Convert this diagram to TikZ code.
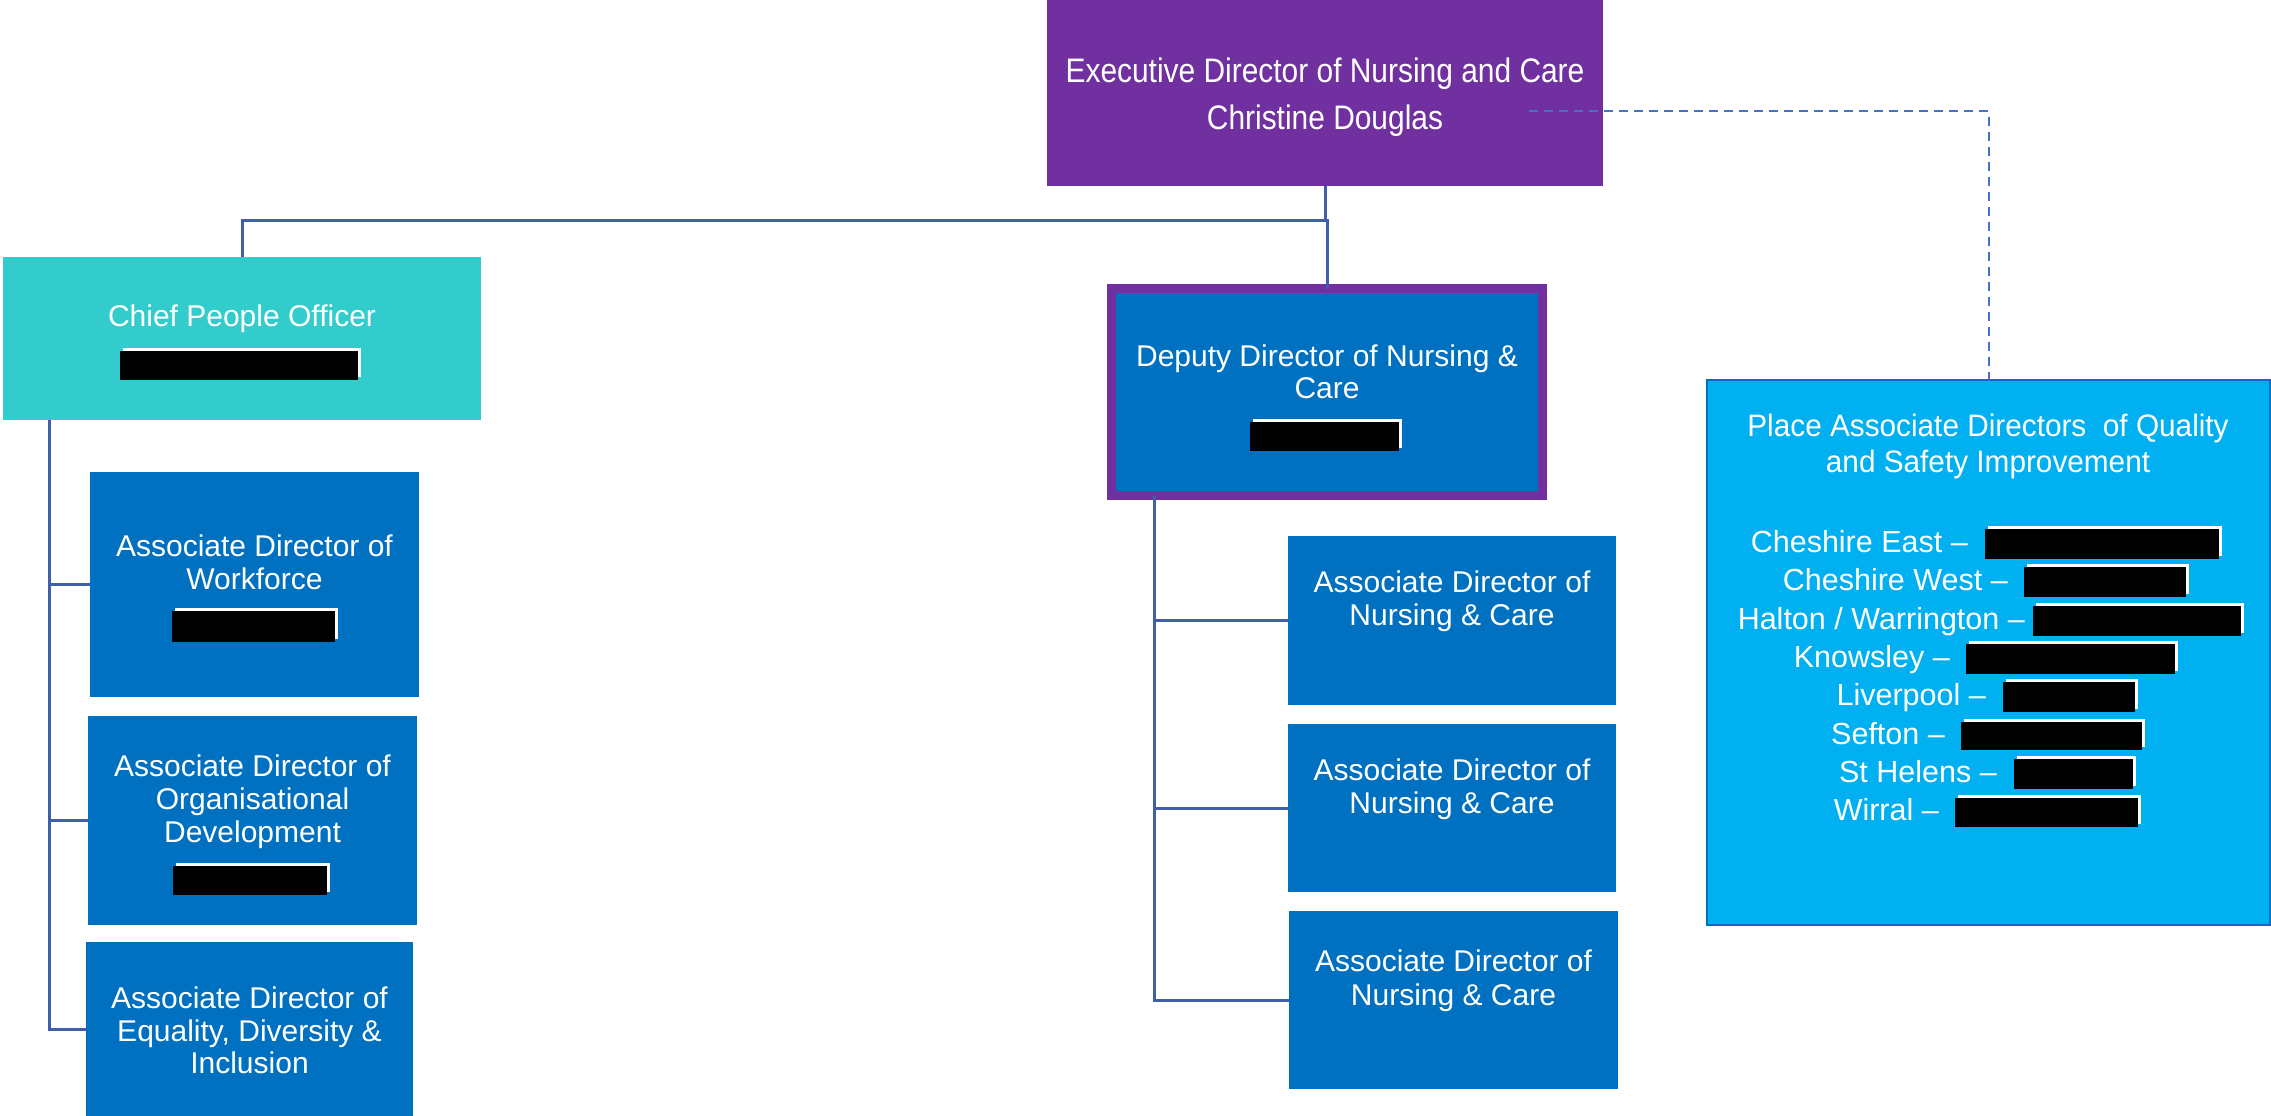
\documentclass[tikz,border=0pt]{standalone}
\usepackage{fontspec}
\setmainfont{Liberation Sans}
\newfontface\condfont[FakeStretch=0.88]{Liberation Sans}
\newfontface\medfont[FakeStretch=0.96]{Liberation Sans}
\definecolor{cpurple}{HTML}{7030A0}
\definecolor{cteal}{HTML}{33CCCC}
\definecolor{cblue}{HTML}{0070C0}
\definecolor{clight}{HTML}{00B0F0}
\definecolor{cline}{HTML}{3F5FAA}
\definecolor{cdash}{HTML}{4472C4}
\newcommand{\redactbar}[4]{%
  \fill[white] (#1+3,#2-3) rectangle (#3+3,#4-3);
  \fill[black] (#1,#2) rectangle (#3,#4);}
\tikzset{
  box/.style={rectangle, inner sep=0pt, outer sep=0pt},
  txt/.style={text=white, inner sep=0pt, anchor=base, font=\fontsize{30}{33}\selectfont},
  listtxt/.style={text=white, inner sep=0pt, anchor=base east, font=\fontsize{30.5}{36}\selectfont},
  conn/.style={draw=cline, line width=3pt},
  dashconn/.style={draw=cdash, line width=2pt, dash pattern=on 9pt off 6pt}
}
\begin{document}
\begin{tikzpicture}[x=1pt,y=-1pt]
\useasboundingbox (0,0) rectangle (2271,1116);
% boxes
\node[box, fill=cpurple, minimum width=556pt, minimum height=186pt] (exec) at (1325,93) {};
\node[box, fill=cteal, minimum width=478pt, minimum height=163pt] (cpo) at (242,338.5) {};
\node[box, fill=cblue, minimum width=329pt, minimum height=225pt] (wf) at (254.5,584.5) {};
\node[box, fill=cblue, minimum width=329pt, minimum height=209pt] (od) at (252.5,820.5) {};
\node[box, fill=cblue, minimum width=327pt, minimum height=174pt] (edi) at (249.5,1029) {};
\node[box, fill=cblue, draw=cpurple, line width=9pt, minimum width=431pt, minimum height=207pt] (dep) at (1327,392) {};
\node[box, fill=cblue, minimum width=328pt, minimum height=169pt] (n1) at (1452,620.5) {};
\node[box, fill=cblue, minimum width=328pt, minimum height=168pt] (n2) at (1452,808) {};
\node[box, fill=cblue, minimum width=329pt, minimum height=178pt] (n3) at (1453.5,1000) {};
\node[box, fill=clight, draw=cblue, line width=2.5pt, minimum width=563pt, minimum height=545pt] (place) at (1988.5,652.5) {};
% connectors
\coordinate (j) at (1325,220);
\draw[conn] (exec.south) -- (j);
\draw[conn] (j) -| (cpo.north);
\draw[conn] (j) -| (dep.north);
\draw[conn] ([xshift=46pt]cpo.south west) |- (wf.west);
\draw[conn] ([xshift=46pt]cpo.south west) |- (od.west);
\draw[conn] ([xshift=46pt]cpo.south west) |- (edi.west);
\draw[conn] ([xshift=42.5pt]dep.south west) |- (n1.west);
\draw[conn] ([xshift=42.5pt]dep.south west) |- (n2.west);
\draw[conn] ([xshift=42.5pt]dep.south west) |- (n3.west);
\coordinate (ds) at (1529,111);
\draw[dashconn] (ds) -| (place.north);
% texts
\node[txt, font=\condfont\fontsize{34}{40}\selectfont] (t0a) at (1325,83) {Executive Director of Nursing and Care};
\node[txt, font=\condfont\fontsize{34}{40}\selectfont] (t0b) at (1325,129) {Christine Douglas};
\node[txt] (t1) at (242,326) {Chief People Officer};
\node[txt] (t2a) at (254.5,556) {Associate Director of};
\node[txt] (t2b) at (254.5,589) {Workforce};
\node[txt] (t3a) at (252.5,776) {Associate Director of};
\node[txt] (t3b) at (252.5,809) {Organisational};
\node[txt] (t3c) at (252.5,842) {Development};
\node[txt] (t4a) at (249.5,1008) {Associate Director of};
\node[txt] (t4b) at (249.5,1041) {Equality, Diversity \&};
\node[txt] (t4c) at (249.5,1073) {Inclusion};
\node[txt] (t5a) at (1327,366) {Deputy Director of Nursing \&};
\node[txt] (t5b) at (1327,398) {Care};
\node[txt] (t6a) at (1452,592) {Associate Director of};
\node[txt] (t6b) at (1452,625) {Nursing \& Care};
\node[txt] (t7a) at (1452,780) {Associate Director of};
\node[txt] (t7b) at (1452,813) {Nursing \& Care};
\node[txt] (t8a) at (1453.5,971) {Associate Director of};
\node[txt] (t8b) at (1453.5,1005) {Nursing \& Care};
\node[txt, font=\medfont\fontsize{31}{35}\selectfont] (t9a) at (1988,436) {Place Associate Directors\ \ of Quality};
\node[txt, font=\medfont\fontsize{31}{35}\selectfont] (t9b) at (1988,472) {and Safety Improvement};
\node[listtxt] (l1) at (1968,552) {Cheshire East –};
\node[listtxt] (l2) at (2008,590) {Cheshire West –};
\node[listtxt] (l3) at (2025,629) {Halton / Warrington –};
\node[listtxt] (l4) at (1950,667) {Knowsley –};
\node[listtxt] (l5) at (1986,705) {Liverpool –};
\node[listtxt] (l6) at (1945,744) {Sefton –};
\node[listtxt] (l7) at (1997,782) {St Helens –};
\node[listtxt] (l8) at (1939,820) {Wirral –};
% redaction bars
\redactbar{120}{351}{358}{380}
\redactbar{172}{611}{335}{642}
\redactbar{173}{866}{327}{895}
\redactbar{1250}{422}{1399}{451}
\redactbar{1985}{529}{2219}{559}
\redactbar{2024}{567}{2186}{597}
\redactbar{2033}{606}{2241}{636}
\redactbar{1966}{644}{2175}{674}
\redactbar{2003}{682}{2135}{712}
\redactbar{1961}{722}{2142}{750}
\redactbar{2014}{759}{2133}{789}
\redactbar{1955}{798}{2138}{827}
\end{tikzpicture}
\end{document}
